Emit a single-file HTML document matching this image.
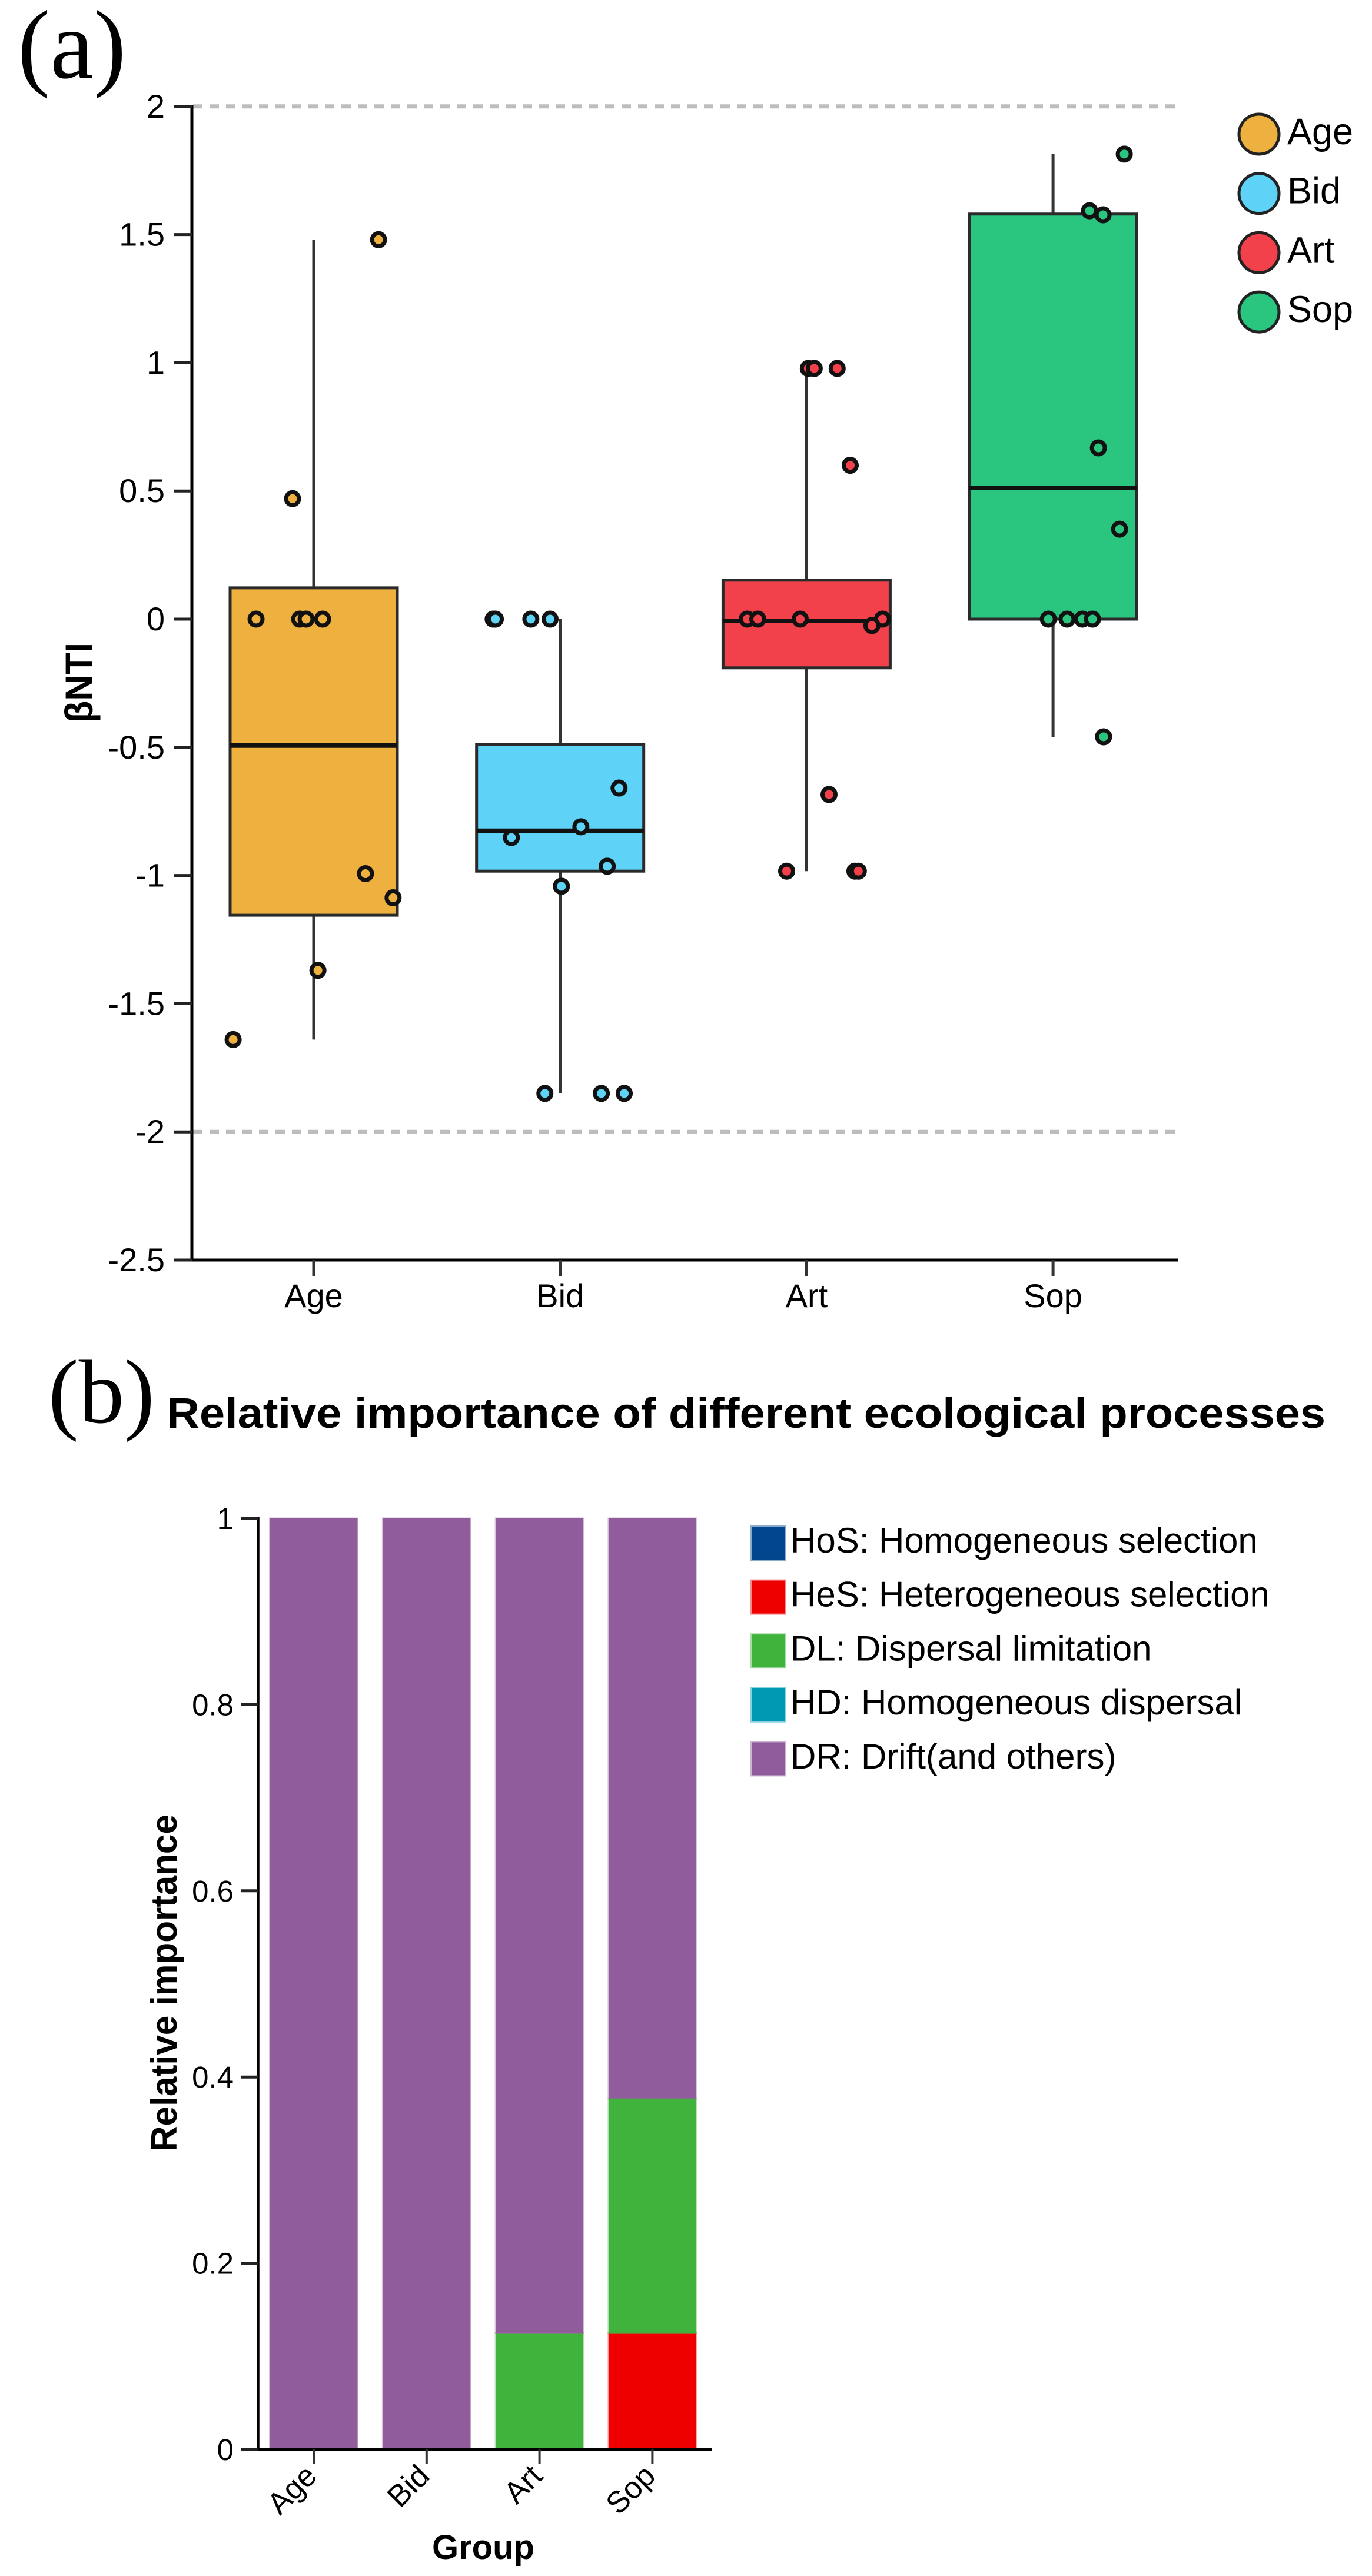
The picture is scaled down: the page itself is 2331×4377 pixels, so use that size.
<!DOCTYPE html>
<html lang="en">
<head>
<meta charset="utf-8">
<title>βNTI and relative importance of ecological processes</title>
<style>
  html, body { margin: 0; padding: 0; background: #fff; }
  svg { display: block; }
  text { font-family: "Liberation Sans", Arial, sans-serif; fill: #000; }
  .serif { font-family: "Liberation Serif", "Times New Roman", serif; }
  .bold { font-weight: 700; }
</style>
</head>
<body>
<svg id="figure" xmlns="http://www.w3.org/2000/svg" width="2331" height="4377" viewBox="0 0 2331 4377">
  <rect x="0" y="0" width="2331" height="4377" fill="#fff"/>

  <text class="serif" x="30" y="132" font-size="166">(a)</text>
  <text class="serif" x="82" y="2417" font-size="155">(b)</text>

  <text class="bold" transform="translate(157 1228) rotate(-90)" font-size="66" textLength="136" lengthAdjust="spacingAndGlyphs">βNTI</text>

  <text class="bold" x="283" y="2426" font-size="72" textLength="1969" lengthAdjust="spacingAndGlyphs">Relative importance of different ecological processes</text>
  <text class="bold" transform="translate(300 3656) rotate(-90)" font-size="62" textLength="573" lengthAdjust="spacingAndGlyphs">Relative importance</text>
  <text class="bold" x="821" y="4348" font-size="58" text-anchor="middle">Group</text>

  <g id="panelA"></g>
  <g id="legendA"></g>
  <g id="panelB"></g>
  <g id="legendB"></g>
</svg>

<script>
// ---------- Panel (a) data ----------
const groups = ['Age', 'Bid', 'Art', 'Sop'];
const groupColors = ['#EEB03F', '#5FD2F7', '#F2414B', '#2AC680'];
const aTickValues = [2, 1.5, 1, 0.5, 0, -0.5, -1, -1.5, -2, -2.5];
const referenceLevels = [2, -2];

const boxQ3 = [0.122, -0.49, 0.152, 1.58];
const boxMedian = [-0.493, -0.826, -0.007, 0.512];
const boxQ1 = [-1.155, -0.983, -0.19, 0];
const whiskerHigh = [1.48, 0, 0.978, 1.814];
const whiskerLow = [-1.64, -1.85, -0.983, -0.461];

const ageValues = [1.48, 0.47, 0, 0, 0, 0, -0.993, -1.087, -1.37, -1.64];
const ageJitter = [0.263, -0.086, -0.234, -0.057, -0.031, 0.036, 0.21, 0.322, 0.017, -0.327];
const bidValues = [0, 0, 0, 0, -0.659, -0.81, -0.852, -0.964, -1.042, -1.85, -1.85, -1.85];
const bidJitter = [-0.272, -0.263, -0.119, -0.041, 0.239, 0.084, -0.198, 0.191, 0.005, -0.062, 0.167, 0.26];
const artValues = [0.978, 0.978, 0.978, 0.6, 0, 0, 0, 0, -0.025, -0.684, -0.983, -0.983, -0.983];
const artJitter = [0.007, 0.031, 0.124, 0.177, -0.241, -0.198, -0.026, 0.308, 0.265, 0.091, -0.081, 0.196, 0.21];
const sopValues = [1.814, 1.593, 1.577, 0.668, 0.351, 0, 0, 0, 0, -0.459];
const sopJitter = [0.289, 0.148, 0.203, 0.184, 0.27, -0.019, 0.057, 0.119, 0.16, 0.205];

// ---------- Panel (b) data ----------
const bTickValues = [1, 0.8, 0.6, 0.4, 0.2, 0];
const processNames = ['HoS: Homogeneous selection', 'HeS: Heterogeneous selection', 'DL: Dispersal limitation', 'HD: Homogeneous dispersal', 'DR: Drift(and others)'];
const processColors = ['#00478F', '#EE0000', '#40B33D', '#0099B3', '#915C9C'];
const hosShare = [0, 0, 0, 0];
const hesShare = [0, 0, 0, 0.125];
const dlShare = [0, 0, 0.125, 0.252];
const hdShare = [0, 0, 0, 0];
const drShare = [1, 1, 0.875, 0.623];

// ---------- Helpers ----------
const NS = 'http://www.w3.org/2000/svg';
function make(tag, parent, props) {
  const node = document.createElementNS(NS, tag);
  for (const k in props) node.setAttribute(k, props[k]);
  parent.appendChild(node);
  return node;
}
function yA(v) { return 1052 - 435.6 * v; }
function xA(i) { return 533 + 418.7 * i; }
function yB(v) { return 4162 - 1582 * v; }
function xB(i) { return 533 + 191.8 * i; }

const panelA = document.getElementById('panelA');
const legendA = document.getElementById('legendA');
const panelB = document.getElementById('panelB');
const legendB = document.getElementById('legendB');

// ---------- Panel (a) reference lines ----------
referenceLevels.forEach(function (level) {
  const line = make('line', panelA, { x1: 328, x2: 2001, y1: yA(level), y2: yA(level), stroke: '#bdbdbd', 'stroke-width': 7, 'stroke-dasharray': '16 12' });
  
  
});

// ---------- Panel (a) axes ----------
const aYAxis = make('line', panelA, { x1: 326, x2: 326, y1: yA(2) - 2, y2: yA(-2.5) + 2, stroke: '#000', 'stroke-width': 5 });


const aXAxis = make('line', panelA, { x1: 295, x2: 2002, y1: yA(-2.5), y2: yA(-2.5), stroke: '#000', 'stroke-width': 5 });



aTickValues.forEach(function (v) {
  const tick = make('line', panelA, { x1: 295, x2: 326, y1: yA(v), y2: yA(v), stroke: '#222', 'stroke-width': 5 });
  
  
  const label = make('text', panelA, { x: 280, y: yA(v) + 19, 'font-size': 56, 'text-anchor': 'end' });
  
  
  label.textContent = String(v);
});

groups.forEach(function (g, i) {
  const tick = make('line', panelA, { x1: xA(i), x2: xA(i), y1: yA(-2.5), y2: yA(-2.5) + 27, stroke: '#333', 'stroke-width': 5 });
  
  
  const label = make('text', panelA, { x: xA(i), y: 2221, 'font-size': 56, 'text-anchor': 'middle' });
  
  
  label.textContent = g;
});

// ---------- Panel (a) boxes ----------
groups.forEach(function (g, i) {
  const whisker = make('line', panelA, { x1: xA(i), x2: xA(i), y1: yA(whiskerHigh[i]), y2: yA(whiskerLow[i]), stroke: '#333', 'stroke-width': 5 });
  
  
  const box = make('rect', panelA, { x: xA(i) - 142, y: yA(boxQ3[i]), width: 284, height: yA(boxQ1[i]) - yA(boxQ3[i]), fill: groupColors[i], stroke: '#2a2a2a', 'stroke-width': 5 });
  
  
  const median = make('line', panelA, { x1: xA(i) - 142, x2: xA(i) + 142, y1: yA(boxMedian[i]), y2: yA(boxMedian[i]), stroke: '#111', 'stroke-width': 8 });
  
  
});

// ---------- Panel (a) points ----------
const pointValues = [ageValues, bidValues, artValues, sopValues];
const pointJitter = [ageJitter, bidJitter, artJitter, sopJitter];
pointValues.forEach(function (vals, i) {
  vals.forEach(function (v, j) {
    const pt = make('circle', panelA, { cx: xA(i + pointJitter[i][j]), cy: yA(v), r: 11, fill: groupColors[i], stroke: '#111', 'stroke-width': 7 });
    
    
  });
});

// ---------- Panel (a) legend ----------
groups.forEach(function (g, i) {
  const swatch = make('circle', legendA, { cx: 2139, cy: 228 + 100.7 * i, r: 34, fill: groupColors[i], stroke: '#222', 'stroke-width': 5 });
  
  
  const label = make('text', legendA, { x: 2187, y: 245 + 100.7 * i, 'font-size': 63 });
  
  
  label.textContent = g;
});

// ---------- Panel (b) bars ----------
const processSeries = [hosShare, hesShare, dlShare, hdShare, drShare];
groups.forEach(function (g, i) {
  let base = 0;
  processSeries.forEach(function (series, s) {
    const share = series[i];
    if (share > 0) {
      const seg = make('rect', panelB, { x: xB(i) - 74.5, y: yB(base + share), width: 149, height: yB(base) - yB(base + share), fill: processColors[s], stroke: processColors[s], 'stroke-opacity': 0.35, 'stroke-width': 3 });
      
      
    }
    base += share;
  });
});

// ---------- Panel (b) axes ----------
const bYAxis = make('line', panelB, { x1: 438.5, x2: 438.5, y1: yB(1) - 2, y2: yB(0) + 2, stroke: '#000', 'stroke-width': 4.5 });


const bXAxis = make('line', panelB, { x1: 410, x2: 1209, y1: yB(0), y2: yB(0), stroke: '#000', 'stroke-width': 4.5 });



bTickValues.forEach(function (v) {
  const tick = make('line', panelB, { x1: 410, x2: 438, y1: yB(v), y2: yB(v), stroke: '#222', 'stroke-width': 5 });
  
  
  const label = make('text', panelB, { x: 397, y: yB(v) + 18, 'font-size': 51, 'text-anchor': 'end' });
  
  
  label.textContent = String(v);
});

groups.forEach(function (g, i) {
  const tick = make('line', panelB, { x1: xB(i), x2: xB(i), y1: yB(0), y2: yB(0) + 25, stroke: '#333', 'stroke-width': 4 });
  
  
  const label = make('text', panelB, { transform: 'translate(' + (xB(i) + 8) + ' 4210) rotate(-45)', 'font-size': 52, 'text-anchor': 'end' });
  
  
  label.textContent = g;
});

// ---------- Panel (b) legend ----------
processNames.forEach(function (name, i) {
  const swatch = make('rect', legendB, { x: 1277, y: 2594 + 91.6 * i, width: 56, height: 56, fill: processColors[i], stroke: processColors[i], 'stroke-opacity': 0.45, 'stroke-width': 4 });
  
  
  const label = make('text', legendB, { x: 1343, y: 2638 + 91.7 * i, 'font-size': 60 });
  
  
  label.textContent = name;
});
</script>
</body>
</html>
